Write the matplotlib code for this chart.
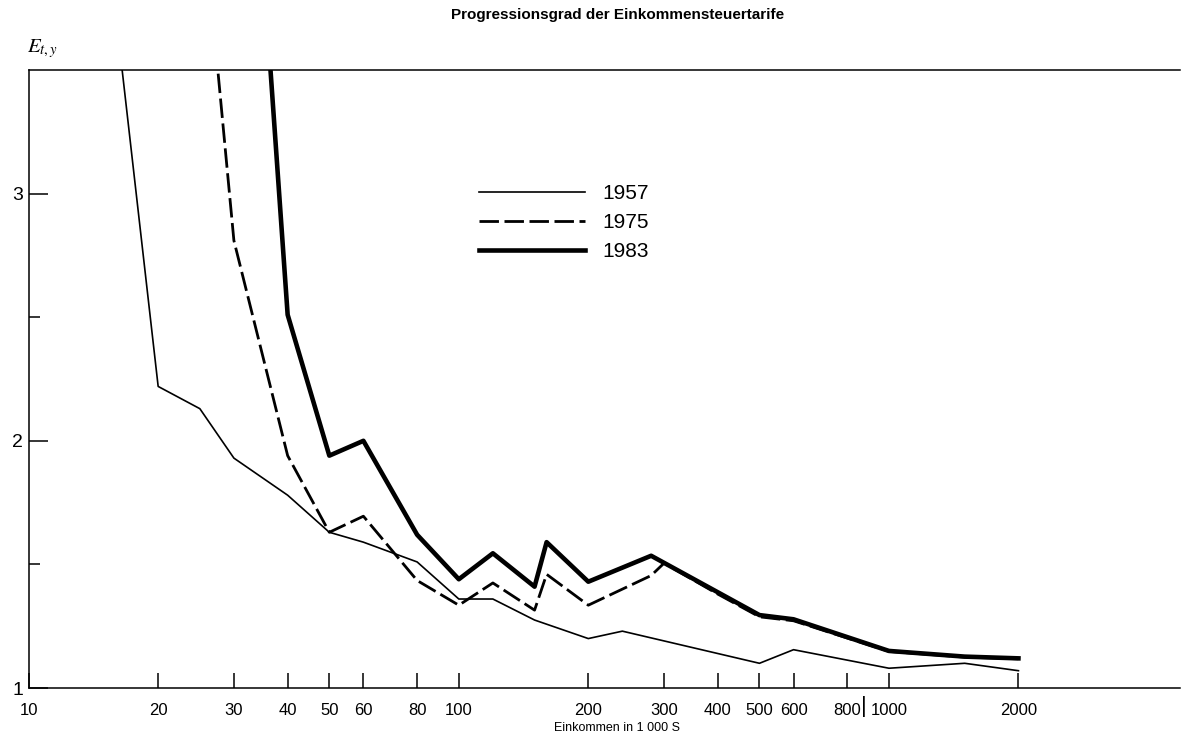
import matplotlib.pyplot as plt
from matplotlib.ticker import FixedLocator, FixedFormatter, NullFormatter

plt.rcParams['font.family'] = ['Liberation Sans', 'DejaVu Sans']
plt.rcParams['mathtext.fontset'] = 'stix'

# Einkommen (1000 S) und Progressionsgrad je Tarif
income_1957 = [15, 20, 25, 30, 40, 50, 60, 80, 100, 120, 150, 200, 240, 500, 600, 1000, 1500, 2000]
grad_1957 = [4.13, 2.22, 2.13, 1.93, 1.78, 1.63, 1.59, 1.51, 1.36, 1.36, 1.275, 1.20, 1.23,
             1.10, 1.155, 1.08, 1.10, 1.07]

income_1975 = [25, 30, 40, 50, 60, 80, 100, 120, 150, 160, 200, 280, 300, 400, 500, 600, 1000, 1500, 2000]
grad_1975 = [4.27, 2.81, 1.94, 1.63, 1.695, 1.435, 1.335, 1.425, 1.315, 1.46, 1.335, 1.455,
             1.505, 1.38, 1.288, 1.272, 1.148, 1.125, 1.118]

income_1983 = [35, 40, 50, 60, 80, 100, 120, 150, 160, 200, 280, 500, 600, 1000, 1500, 2000]
grad_1983 = [3.95, 2.51, 1.94, 2.0, 1.62, 1.44, 1.545, 1.41, 1.59, 1.43, 1.535, 1.295, 1.278,
             1.15, 1.127, 1.12]

xticks = [10, 20, 30, 40, 50, 60, 80, 100, 200, 300, 400, 500, 600, 800, 1000, 2000]
xtick_labels = [str(t) for t in xticks]

fig = plt.figure(figsize=(11.85, 7.45), dpi=100)
ax = fig.add_axes([0.0242, 0.0765, 0.9716, 0.8295])

ax.plot(income_1957, grad_1957, color='black', lw=1.2, label='1957')
ax.plot(income_1975, grad_1975, color='black', lw=2.0, dashes=(7, 2), label='1975')
ax.plot(income_1983, grad_1983, color='black', lw=3.3, label='1983')

ax.set_xscale('log')
ax.set_xlim(10, 4750)
ax.set_ylim(1, 3.5)

ax.xaxis.set_major_locator(FixedLocator(xticks))
ax.xaxis.set_major_formatter(FixedFormatter(xtick_labels))
ax.xaxis.set_minor_locator(FixedLocator([]))
ax.xaxis.set_minor_formatter(NullFormatter())
ax.set_yticks([1, 2, 3])
ax.set_yticks([1.5, 2.5], minor=True)

ax.tick_params(axis='x', direction='in', length=11, width=1.1, labelsize=12, pad=11)
ax.tick_params(axis='y', which='major', direction='in', length=14, width=1.1, labelsize=14, pad=4)
ax.tick_params(axis='y', which='minor', direction='in', length=8, width=1.1)

for side in ['left', 'bottom', 'top']:
    ax.spines[side].set_linewidth(1.1)
ax.spines['right'].set_visible(False)

# Trennstrich zwischen 800 und 1000
ax.text(876, -0.03, '|', transform=ax.get_xaxis_transform(), ha='center', va='center',
        fontsize=16)

ax.legend(loc='upper left', bbox_to_anchor=(0.4042, 0.753), bbox_transform=fig.transFigure,
          frameon=False, fontsize=15, handlelength=5.1, handletextpad=0.8,
          labelspacing=0.48, borderpad=0, borderaxespad=0)

fig.text(0.521, 0.98, 'Progressionsgrad der Einkommensteuertarife', ha='center', va='center',
         fontsize=11, fontweight='bold')
fig.text(0.023, 0.935, r'$E_{t,y}$', ha='left', va='center', fontsize=15)
ax.set_xlabel('Einkommen in 1 000 S', fontsize=9)
ax.xaxis.set_label_coords(0.511, -0.055)

fig.savefig('out.png', dpi=100)
